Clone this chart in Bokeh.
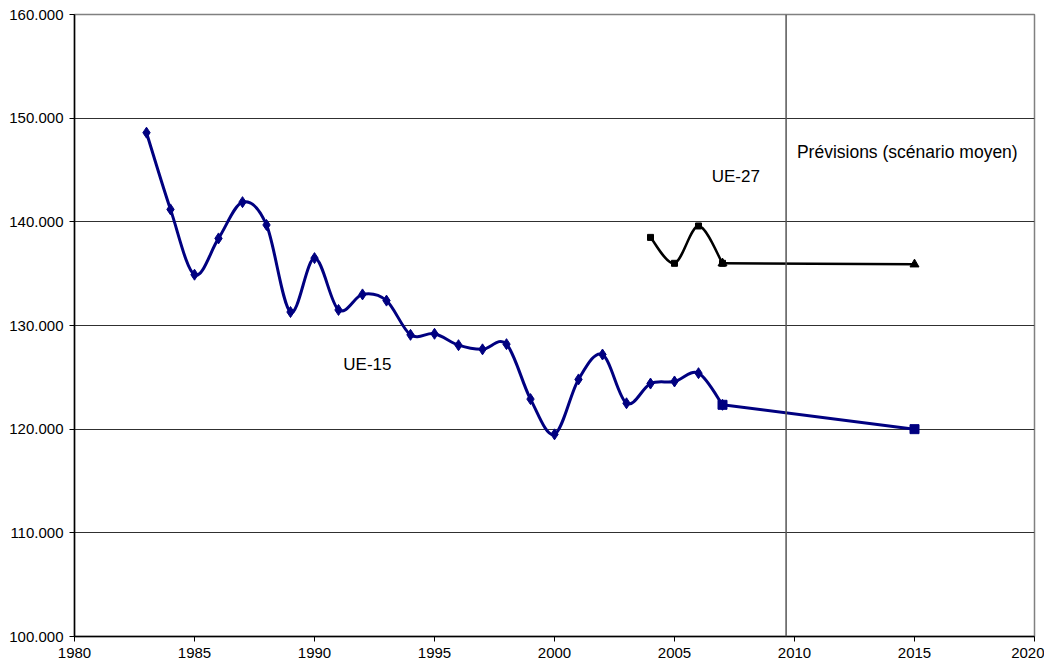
import numpy as np
from bokeh.plotting import figure
from bokeh.models import (ColumnDataSource, Range1d, FixedTicker, CustomJSTickFormatter,
                          Span, Label)
from bokeh.embed import file_html
from bokeh.resources import INLINE

# ---- data ----
ue15_years = [1983, 1984, 1985, 1986, 1987, 1988, 1989, 1990, 1991, 1992, 1993, 1994,
              1995, 1996, 1997, 1998, 1999, 2000, 2001, 2002, 2003, 2004, 2005, 2006, 2007]
ue15_values = [148600, 141200, 134900, 138400, 141900, 139700, 131300, 136500, 131500,
               133000, 132400, 129100, 129200, 128100, 127700, 128200, 122900, 119500,
               124800, 127200, 122500, 124400, 124600, 125400, 122350]
ue15_fc_years = [2007, 2015]
ue15_fc_values = [122350, 120000]

ue27_years = [2004, 2005, 2006, 2007]
ue27_values = [138500, 136000, 139600, 136000]
ue27_fc_years = [2007, 2015]
ue27_fc_values = [136000, 135900]

x_ticks = [1980, 1985, 1990, 1995, 2000, 2005, 2010, 2015, 2020]
y_ticks = [100000, 110000, 120000, 130000, 140000, 150000, 160000]
forecast_start = 2009.65

label_ue15 = "UE-15"
label_ue27 = "UE-27"
label_prev = "Prévisions (scénario moyen)"

NAVY = "#000080"
FONT = "Liberation Sans"


def smooth_segments(xs, ys):
    """Catmull-Rom style Bezier control points (as Excel smoothed lines)."""
    x = np.asarray(xs, dtype=float)
    y = np.asarray(ys, dtype=float)
    n = len(x)
    xp = np.concatenate([[x[0]], x, [x[-1]]])
    yp = np.concatenate([[y[0]], y, [y[-1]]])
    d = dict(x0=[], y0=[], x1=[], y1=[], cx0=[], cy0=[], cx1=[], cy1=[])
    for i in range(n - 1):
        p0x, p0y = xp[i], yp[i]
        p1x, p1y = xp[i + 1], yp[i + 1]
        p2x, p2y = xp[i + 2], yp[i + 2]
        p3x, p3y = xp[i + 3], yp[i + 3]
        d["x0"].append(p1x); d["y0"].append(p1y)
        d["x1"].append(p2x); d["y1"].append(p2y)
        d["cx0"].append(p1x + (p2x - p0x) / 6.0)
        d["cy0"].append(p1y + (p2y - p0y) / 6.0)
        d["cx1"].append(p2x - (p3x - p1x) / 6.0)
        d["cy1"].append(p2y - (p3y - p1y) / 6.0)
    return ColumnDataSource(d)


p = figure(frame_width=960, frame_height=622, output_backend="svg", toolbar_location=None,
           x_range=Range1d(1980, 2020), y_range=Range1d(100000, 160000),
           min_border_left=74, min_border_top=14, min_border_right=10, min_border_bottom=28,
           background_fill_color="white", border_fill_color="white")

p.outline_line_color = "#808080"
p.outline_line_width = 1.5

# grid
p.xgrid.visible = False
p.ygrid.ticker = FixedTicker(ticks=y_ticks)
p.ygrid.grid_line_color = "#303030"
p.ygrid.grid_line_width = 1

# axes
p.xaxis.ticker = FixedTicker(ticks=x_ticks)
p.yaxis.ticker = FixedTicker(ticks=y_ticks)
p.yaxis.formatter = CustomJSTickFormatter(code="return (tick/1000).toFixed(3);")
for ax in (p.xaxis[0], p.yaxis[0]):
    ax.axis_line_color = "black"
    ax.axis_line_width = 1.5
    ax.major_tick_line_color = "black"
    ax.major_tick_out = 5
    ax.major_tick_in = 0
    ax.minor_tick_line_color = None
    ax.major_label_text_font = FONT
    ax.major_label_text_font_size = "15px"
    ax.major_label_text_color = "black"
p.xaxis.major_label_standoff = 6
p.yaxis.major_label_standoff = 6

# forecast separator
p.add_layout(Span(location=forecast_start, dimension="height", line_color="#555555",
                  line_width=1.5))

# UE-15 smoothed series
p.bezier(x0="x0", y0="y0", x1="x1", y1="y1", cx0="cx0", cy0="cy0", cx1="cx1", cy1="cy1",
         source=smooth_segments(ue15_years, ue15_values), line_color=NAVY, line_width=3)
p.scatter(ue15_years, ue15_values, marker="diamond", size=11, color=NAVY)
p.line(ue15_fc_years, ue15_fc_values, line_color=NAVY, line_width=3)
p.scatter(ue15_fc_years, ue15_fc_values, marker="square", size=9, color=NAVY)

# UE-27 smoothed series
p.bezier(x0="x0", y0="y0", x1="x1", y1="y1", cx0="cx0", cy0="cy0", cx1="cx1", cy1="cy1",
         source=smooth_segments(ue27_years, ue27_values), line_color="black", line_width=2.5)
p.scatter(ue27_years, ue27_values, marker="square", size=6, color="black")
p.line(ue27_fc_years, ue27_fc_values, line_color="black", line_width=2.5)
p.scatter(ue27_fc_years, ue27_fc_values, marker="triangle", size=9, color="black")

# labels
for txt, lx, ly, fs in [(label_ue15, 1991.2, 126270, "17px"),
                        (label_ue27, 2006.55, 144420, "17px"),
                        (label_prev, 2010.1, 146780, "17.5px")]:
    p.add_layout(Label(x=lx, y=ly, text=txt, text_font=FONT, text_font_size=fs,
                       text_color="black", text_baseline="alphabetic", text_align="left"))

open("out.html", "w").write(file_html(p, INLINE))
